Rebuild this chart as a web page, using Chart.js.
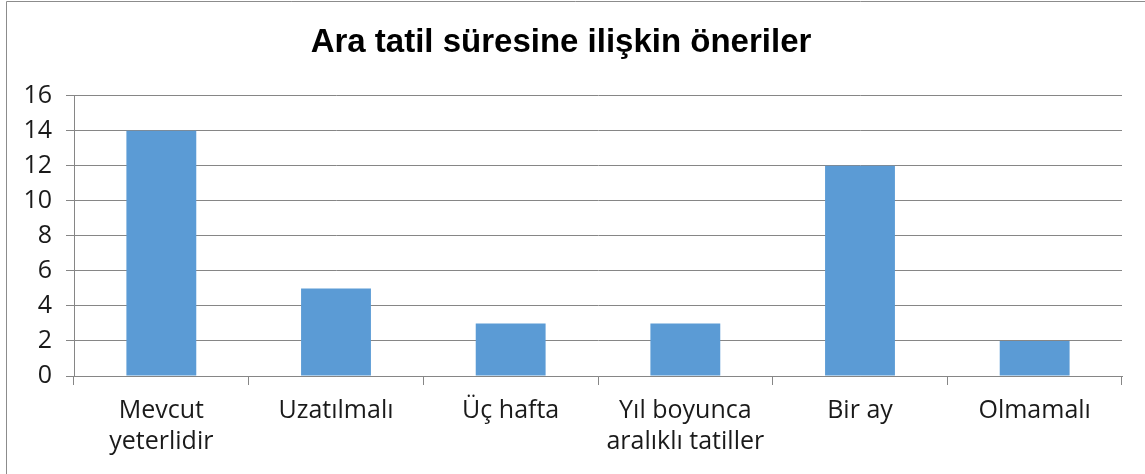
<!DOCTYPE html>
<html>
<head>
<meta charset="utf-8">
<script src="https://cdn.jsdelivr.net/npm/chart.js@4/dist/chart.umd.min.js"></script>
<style>
  html, body { margin: 0; padding: 0; background: #fff; }
  #wrap { width: 1145px; height: 474px; position: relative; }
</style>
</head>
<body>
<div id="wrap"><canvas id="c" width="1145" height="474"></canvas></div>
<script>
const chartTitle = "Ara tatil süresine ilişkin öneriler";
const categories = [["Mevcut", "yeterlidir"], "Uzatılmalı", "Üç hafta", ["Yıl boyunca", "aralıklı tatiller"], "Bir ay", "Olmamalı"];
const values = [14, 5, 3, 3, 12, 2];
const yTicks = [0, 2, 4, 6, 8, 10, 12, 14, 16];

const frame = {
  id: 'frame',
  afterDraw(chart) {
    const ctx = chart.ctx;
    ctx.save();
    ctx.strokeStyle = '#8c8c8c';
    ctx.lineWidth = 1;
    ctx.beginPath();
    ctx.moveTo(6.5, 474);
    ctx.lineTo(6.5, 1.5);
    ctx.lineTo(1145, 1.5);
    ctx.stroke();
    ctx.restore();
  }
};

new Chart(document.getElementById('c'), {
  type: 'bar',
  data: {
    labels: categories,
    datasets: [{
      data: values,
      backgroundColor: '#5B9BD5',
      borderWidth: 0,
      barPercentage: 0.4,
      categoryPercentage: 1.0
    }]
  },
  options: {
    responsive: false,
    animation: false,
    layout: { padding: { left: 0, right: 23, top: 0, bottom: 0 } },
    plugins: {
      legend: { display: false },
      tooltip: { enabled: false },
      title: {
        display: true,
        text: chartTitle,
        color: '#000',
        font: { family: 'Liberation Sans', size: 33, weight: 'bold' },
        padding: { top: 23, bottom: 33 }
      }
    },
    scales: {
      x: {
        grid: { display: true, drawOnChartArea: false, color: '#868686', tickLength: 9, offset: true },
        border: { color: '#868686' },
        ticks: { color: '#1a1a1a', font: { family: 'Open Sans', size: 25, lineHeight: 1.24 }, padding: 10, maxRotation: 0, autoSkip: false },
        afterFit(scale) { scale.height = 98; }
      },
      y: {
        min: 0, max: 16,
        afterBuildTicks(scale) { scale.ticks = yTicks.map(v => ({ value: v })); },
        grid: { color: '#868686', tickLength: 8 },
        border: { color: '#868686' },
        ticks: { color: '#1a1a1a', font: { family: 'Open Sans', size: 25 }, padding: 14 },
        afterFit(scale) { scale.width = 74; }
      }
    }
  },
  plugins: [frame]
});
</script>
</body>
</html>
